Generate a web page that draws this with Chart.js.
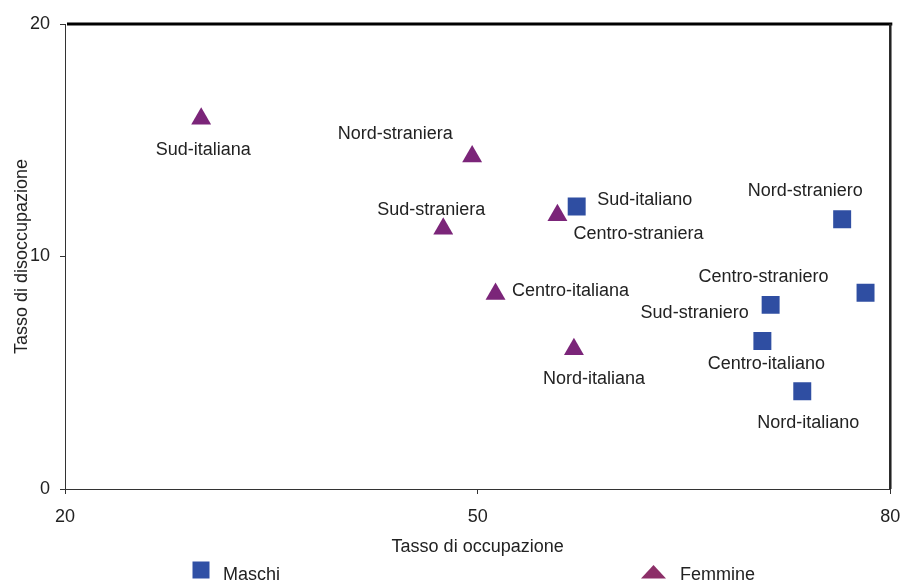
<!DOCTYPE html>
<html>
<head>
<meta charset="utf-8">
<script src="https://cdn.jsdelivr.net/npm/chart.js@4.4.1/dist/chart.umd.min.js"></script>
<style>
  html, body { margin: 0; padding: 0; background: #ffffff; }
  #wrap { width: 903px; height: 583px; position: relative; }
</style>
</head>
<body>
<div id="wrap"><canvas id="c" width="903" height="583"></canvas></div>
<script>
// ---- Data ----
const namesMaschi = ['Sud-italiano', 'Nord-straniero', 'Centro-straniero', 'Sud-straniero', 'Centro-italiano', 'Nord-italiano'];
const occMaschi   = [57.2, 76.5, 78.2, 71.3, 70.7, 73.6];
const disMaschi   = [12.15, 11.6, 8.44, 7.92, 6.37, 4.2];

const namesFemmine = ['Sud-italiana', 'Nord-straniera', 'Sud-straniera', 'Centro-straniera', 'Centro-italiana', 'Nord-italiana'];
const occFemmine   = [29.9, 49.6, 47.5, 55.8, 51.3, 57.0];
const disFemmine   = [15.92, 14.3, 11.19, 11.77, 8.39, 6.01];

const xTickValues = [20, 50, 80];
const yTickValues = [0, 10, 20];

const seriesNames = ['Maschi', 'Femmine'];
const xTitle = 'Tasso di occupazione';
const yTitle = 'Tasso di disoccupazione';

// ---- Label placement (pixel offsets from each marker) ----
const labelOffsetMaschi  = [[68, -8], [-37, -30], [-102, -17], [-76, 7], [4, 22], [6, 30]];
const labelOffsetFemmine = [[2, 30], [-77, -24], [-12, -20], [81, 17], [75, -4], [20, 28]];

const COL_M = '#2F4EA2';
const COL_F = '#7B2579';
const TEXT = '#222222';
const FONT = '"Liberation Sans", Arial, sans-serif';

const toPoints = (xs, ys) => xs.map((v, i) => ({ x: v, y: ys[i] }));

const labelsPlugin = {
  id: 'pointLabels',
  afterDatasetsDraw(chart) {
    const ctx = chart.ctx;
    ctx.save();
    ctx.font = '18px ' + FONT;
    ctx.fillStyle = TEXT;
    ctx.textAlign = 'center';
    ctx.textBaseline = 'alphabetic';
    const sets = [[namesMaschi, labelOffsetMaschi], [namesFemmine, labelOffsetFemmine]];
    sets.forEach(([names, offs], di) => {
      const meta = chart.getDatasetMeta(di);
      meta.data.forEach((el, i) => {
        const o = offs[i];
        ctx.fillText(names[i], el.x + o[0], el.y + o[1] + 6.5);
      });
    });
    ctx.restore();
  }
};

const framePlugin = {
  id: 'frame',
  afterDraw(chart) {
    const { ctx, chartArea: a } = chart;
    ctx.save();
    ctx.strokeStyle = '#000';
    ctx.lineWidth = 3;
    ctx.beginPath();
    ctx.moveTo(a.left + 2, a.top);
    ctx.lineTo(a.right + 2, a.top);
    ctx.stroke();
    ctx.strokeStyle = '#222';
    ctx.lineWidth = 2.5;
    ctx.beginPath();
    ctx.moveTo(a.right, a.top);
    ctx.lineTo(a.right, a.bottom);
    ctx.stroke();

    // legend
    ctx.font = '18px ' + FONT;
    ctx.textAlign = 'left';
    ctx.textBaseline = 'alphabetic';
    ctx.fillStyle = '#3050A5';
    ctx.fillRect(192.5, 561.5, 17, 17);
    ctx.fillStyle = TEXT;
    ctx.fillText(seriesNames[0], 223, 580);
    ctx.fillStyle = '#8C2F68';
    ctx.beginPath();
    ctx.moveTo(641, 578.5);
    ctx.lineTo(666, 578.5);
    ctx.lineTo(653.5, 565);
    ctx.closePath();
    ctx.fill();
    ctx.fillStyle = TEXT;
    ctx.fillText(seriesNames[1], 680, 580);
    ctx.restore();
  }
};

const axisCommon = {
  grid: { display: true, drawOnChartArea: false, drawTicks: true, tickLength: 5, color: '#333', lineWidth: 1 },
  border: { display: true, color: '#333', width: 1 },
};

new Chart(document.getElementById('c'), {
  type: 'scatter',
  data: {
    datasets: [
      {
        label: seriesNames[0],
        data: toPoints(occMaschi, disMaschi),
        pointStyle: 'rect',
        pointRadius: 12.7,
        pointHoverRadius: 12.7,
        pointBorderWidth: 0,
        backgroundColor: COL_M,
        borderColor: COL_M
      },
      {
        label: seriesNames[1],
        data: toPoints(occFemmine, disFemmine),
        pointStyle: 'triangle',
        pointRadius: 11.5,
        pointHoverRadius: 11.5,
        pointBorderWidth: 0,
        backgroundColor: COL_F,
        borderColor: COL_F
      }
    ]
  },
  options: {
    responsive: false,
    animation: false,
    events: [],
    layout: { padding: { top: 24, right: 12, left: 0, bottom: 0 } },
    plugins: { legend: { display: false }, tooltip: { enabled: false } },
    scales: {
      x: {
        type: 'linear',
        min: 20, max: 80,
        ...axisCommon,
        afterBuildTicks: s => { s.ticks = xTickValues.map(v => ({ value: v })); },
        afterFit: s => { s.height = 94; s.paddingLeft = 0; s.paddingRight = 0; },
        ticks: { color: TEXT, font: { size: 18, family: FONT }, padding: 12, maxRotation: 0 },
        title: { display: true, text: xTitle, color: TEXT, font: { size: 18, family: FONT }, padding: { top: 0, bottom: 25 } }
      },
      y: {
        type: 'linear',
        min: 0, max: 20,
        ...axisCommon,
        afterBuildTicks: s => { s.ticks = yTickValues.map(v => ({ value: v })); },
        afterFit: s => { s.width = 65; s.paddingTop = 0; s.paddingBottom = 0; },
        ticks: { color: TEXT, font: { size: 18, family: FONT }, padding: 10 },
        title: { display: true, text: yTitle, color: TEXT, font: { size: 18, family: FONT }, padding: { top: 11, bottom: 0 } }
      }
    }
  },
  plugins: [labelsPlugin, framePlugin]
});
</script>
</body>
</html>
